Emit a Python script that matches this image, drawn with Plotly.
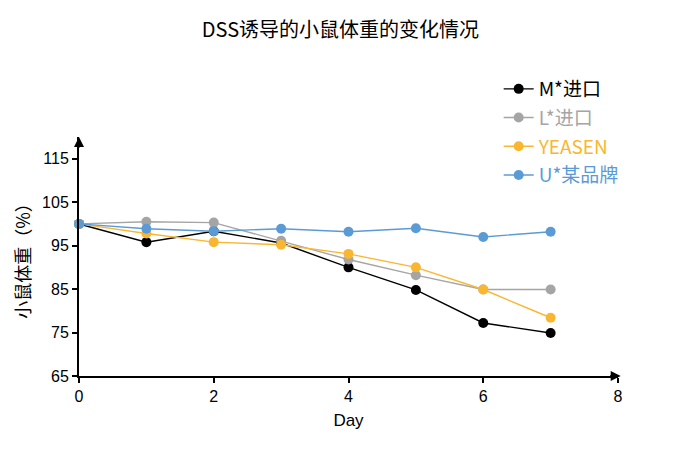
import plotly.graph_objects as go

days = [0, 1, 2, 3, 4, 5, 6, 7]
m_import = [100, 95.8, 98.3, 95.6, 90.0, 84.8, 77.2, 74.9]
l_import = [100, 100.5, 100.3, 96.1, 91.8, 88.2, 84.9, 84.9]
yeasen = [100, 97.8, 95.8, 95.2, 93.1, 90.0, 84.9, 78.4]
u_brand = [100, 98.9, 98.3, 98.9, 98.2, 99.0, 97.0, 98.2]

series_names = ["M*进口", "L*进口", "YEASEN", "U*某品牌"]
series_colors = ["#000000", "#A5A5A5", "#F9B731", "#5B9BD5"]
series_values = [m_import, l_import, yeasen, u_brand]

x_ticks = [0, 2, 4, 6, 8]
y_ticks = [65, 75, 85, 95, 105, 115]

cjk = "Noto Sans CJK SC"
latin = "Liberation Sans, Arial"

fig = go.Figure()
for name, color, vals in zip(series_names, series_colors, series_values):
    fig.add_trace(go.Scatter(
        x=days, y=vals, mode="lines+markers",
        name=f"<span style='color:{color}'>{name}</span>",
        line=dict(color=color, width=1.4),
        marker=dict(color=color, size=10),
        cliponaxis=False,
        legendgroup=name,
    ))

fig.update_layout(
    width=685, height=450,
    paper_bgcolor="white", plot_bgcolor="white",
    margin=dict(l=79, r=67, t=137, b=74, autoexpand=False),
    title=dict(text="DSS诱导的小鼠体重的变化情况", x=0.497, xanchor="center",
               xref="container", y=1 - 30 / 450, yanchor="middle", yref="container",
               font=dict(family=cjk, size=20, color="#000000")),
    showlegend=True,
    legend=dict(x=0.728, xanchor="left", xref="container",
                y=1 - 70 / 450, yref="container", yanchor="top",
                font=dict(family=cjk, size=19, color="#000000"),
                bgcolor="rgba(0,0,0,0)", itemwidth=30, tracegroupgap=1),
    xaxis=dict(range=[0, 8], tickvals=x_ticks, ticktext=[str(v) for v in x_ticks],
               automargin=False,
               showgrid=False, zeroline=False, showline=True, linecolor="black",
               linewidth=2, ticks="outside", ticklen=5, tickwidth=1.5,
               tickcolor="black", tickfont=dict(family=latin, size=16, color="black"),
               title=dict(text="Day", font=dict(family=latin, size=17, color="black"),
                          standoff=10)),
    yaxis=dict(range=[65, 120], tickvals=y_ticks, ticktext=[str(v) for v in y_ticks],
               automargin=False,
               showgrid=False, zeroline=False, showline=True, linecolor="black",
               linewidth=2, ticks="outside", ticklen=5, tickwidth=1.5,
               tickcolor="black", tickfont=dict(family=latin, size=16, color="black"),
               title=dict(text="小鼠体重（%）", font=dict(family=cjk, size=18, color="black"),
                          standoff=7)),
)

# axis arrowheads
fig.add_annotation(x=0, y=1, xref="x", yref="paper", ax=0, ay=12, text="",
                   showarrow=True, arrowhead=2, arrowsize=1, arrowwidth=2,
                   arrowcolor="black")
fig.add_annotation(x=1.005, y=65, xref="paper", yref="y", ax=-12, ay=0, text="",
                   showarrow=True, arrowhead=2, arrowsize=1, arrowwidth=2,
                   arrowcolor="black")

fig.write_html("out.html", config={"displayModeBar": False},
               post_script="document.body.style.margin='0';")
